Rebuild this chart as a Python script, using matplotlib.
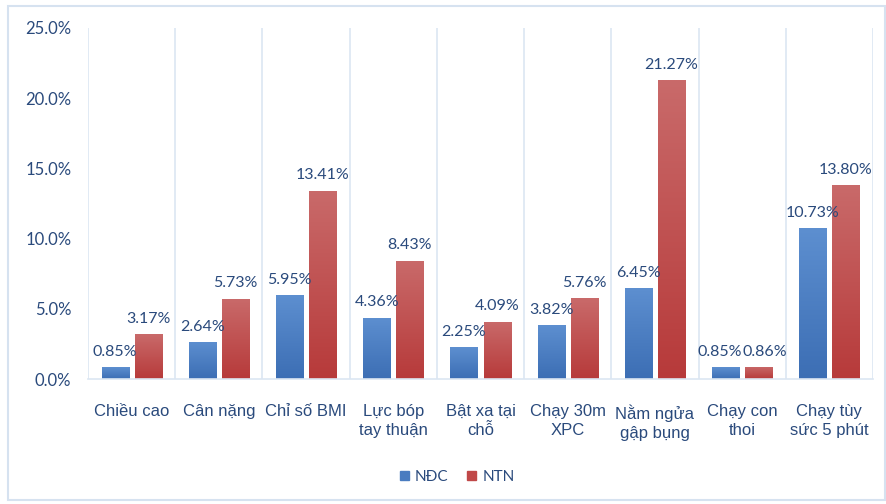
import numpy as np
import matplotlib.pyplot as plt
from matplotlib import patches
from matplotlib.colors import LinearSegmentedColormap

categories = ['Chiều cao', 'Cân nặng', 'Chỉ số BMI', 'Lực bóp\ntay thuận',
              'Bật xa tại\nchỗ', 'Chạy 30m\nXPC', 'Nằm ngửa\ngập bụng',
              'Chạy con\nthoi', 'Chạy tùy\nsức 5 phút']
ndc = [0.85, 2.64, 5.95, 4.36, 2.25, 3.82, 6.45, 0.85, 10.73]
ntn = [3.17, 5.73, 13.41, 8.43, 4.09, 5.76, 21.27, 0.86, 13.80]
yticks = [0, 5, 10, 15, 20, 25]

text_color = '#2a4a7c'
grid_color = '#dce6f2'
blue_grad = LinearSegmentedColormap.from_list('b', ['#3c6eb4', '#5d8fd0'])
red_grad = LinearSegmentedColormap.from_list('r', ['#b73a3a', '#c96a6a'])

fig = plt.figure(figsize=(8.86, 5.04), dpi=100)
ax = fig.add_axes([88 / 886, 1 - 379 / 504, (873 - 88) / 886, (379 - 28) / 504])

# outer frame of the chart
fig.patches.append(patches.Rectangle((8 / 886, 4 / 504), 877 / 886, 494 / 504,
                                     transform=fig.transFigure, fill=False,
                                     edgecolor='#d6e2f0', linewidth=1.5))

x = np.arange(len(categories))
w = 0.31
off = 0.19
grad = np.linspace(0, 1, 256).reshape(-1, 1)


def grad_bars(xs, vals, cmap):
    bars = ax.bar(xs, vals, w, color='none', edgecolor='none')
    for b in bars:
        x0, y0 = b.get_x(), b.get_y()
        im = ax.imshow(grad, cmap=cmap, origin='lower', aspect='auto',
                       extent=[x0, x0 + b.get_width(), y0, y0 + b.get_height()],
                       zorder=2)
        im.set_clip_path(b)
    return bars


grad_bars(x - off, ndc, blue_grad)
grad_bars(x + off, ntn, red_grad)

lab_font = dict(family='Lato', fontsize=11.5, color=text_color)
for i in range(len(categories)):
    # nudge the two labels apart when the bars are nearly equal
    nudge = 0.07 if abs(ndc[i] - ntn[i]) < 1.5 else 0.0
    ax.text(x[i] - off - nudge, ndc[i] + 0.6, f'{ndc[i]:.2f}%', ha='center',
            va='bottom', **lab_font)
    ax.text(x[i] + off + nudge, ntn[i] + 0.6, f'{ntn[i]:.2f}%', ha='center',
            va='bottom', **lab_font)

ax.set_xlim(-0.5, len(categories) - 0.5)
ax.set_ylim(0, 25)
ax.set_yticks(yticks)
ax.set_yticklabels([f'{t:.1f}%' for t in yticks], family='Lato', fontsize=12,
                   color=text_color)
ax.set_xticks(x)
ax.set_xticklabels(categories, family='Liberation Sans', fontsize=12,
                   color=text_color, linespacing=1.35)
ax.tick_params(axis='both', length=0)
ax.tick_params(axis='y', pad=12)
ax.tick_params(axis='x', pad=18)

for b in np.arange(-0.5, len(categories), 1.0):
    ax.axvline(b, color=grid_color, linewidth=1.2, zorder=0)
for s in ['top', 'right', 'left']:
    ax.spines[s].set_visible(False)
ax.spines['bottom'].set_color(grid_color)
ax.spines['bottom'].set_linewidth(1.2)

handles = [patches.Patch(color='#4a7cc0', label='NĐC'),
           patches.Patch(color='#c04848', label='NTN')]
fig.legend(handles=handles, loc='center', bbox_to_anchor=(457 / 886, 1 - 477 / 504),
           ncol=2, frameon=False, handlelength=0.6, handleheight=0.6,
           handletextpad=0.4, columnspacing=1.2,
           prop=dict(family='Lato', size=11), labelcolor=text_color)

fig.savefig('out.png', dpi=100)
